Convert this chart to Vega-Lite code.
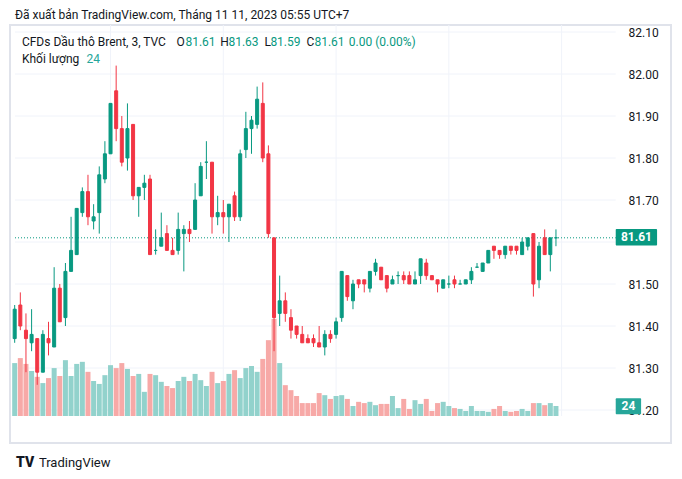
{
  "$schema": "https://vega.github.io/schema/vega-lite/v6.json",
  "width": 661,
  "height": 418,
  "autosize": {"type": "none"},
  "padding": {"left": 10, "top": 25, "right": 11, "bottom": 36},
  "background": "white",
  "config": {"view": {"stroke": "#e0e3eb", "strokeWidth": 2}, "font": "Roboto", "text": {"font": "Roboto"}},
  "datasets": {
    "bars": [
      {"t":9,"o":81.37,"h":81.45,"l":81.36,"c":81.44,"v":127},
      {"t":12,"o":81.45,"h":81.48,"l":81.39,"c":81.40,"v":139},
      {"t":15,"o":81.39,"h":81.43,"l":81.29,"c":81.37,"v":125},
      {"t":18,"o":81.36,"h":81.44,"l":81.34,"c":81.38,"v":108},
      {"t":21,"o":81.37,"h":81.37,"l":81.26,"c":81.29,"v":94},
      {"t":24,"o":81.29,"h":81.39,"l":81.29,"c":81.38,"v":79},
      {"t":27,"o":81.37,"h":81.41,"l":81.33,"c":81.36,"v":91},
      {"t":30,"o":81.35,"h":81.54,"l":81.35,"c":81.49,"v":115},
      {"t":33,"o":81.49,"h":81.50,"l":81.41,"c":81.41,"v":96},
      {"t":36,"o":81.42,"h":81.55,"l":81.40,"c":81.53,"v":134},
      {"t":39,"o":81.53,"h":81.66,"l":81.53,"c":81.58,"v":96},
      {"t":42,"o":81.57,"h":81.68,"l":81.57,"c":81.68,"v":125},
      {"t":45,"o":81.67,"h":81.73,"l":81.66,"c":81.72,"v":130},
      {"t":48,"o":81.72,"h":81.76,"l":81.64,"c":81.66,"v":106},
      {"t":51,"o":81.65,"h":81.69,"l":81.63,"c":81.66,"v":84},
      {"t":54,"o":81.67,"h":81.78,"l":81.62,"c":81.76,"v":77},
      {"t":57,"o":81.75,"h":81.84,"l":81.74,"c":81.81,"v":98},
      {"t":60,"o":81.81,"h":81.93,"l":81.81,"c":81.93,"v":122},
      {"t":63,"o":81.96,"h":82.02,"l":81.84,"c":81.87,"v":115},
      {"t":66,"o":81.87,"h":81.90,"l":81.78,"c":81.79,"v":127},
      {"t":69,"o":81.80,"h":81.93,"l":81.77,"c":81.87,"v":113},
      {"t":72,"o":81.88,"h":81.88,"l":81.70,"c":81.71,"v":96},
      {"t":75,"o":81.71,"h":81.73,"l":81.66,"c":81.73,"v":101},
      {"t":78,"o":81.73,"h":81.76,"l":81.70,"c":81.74,"v":58},
      {"t":81,"o":81.75,"h":81.76,"l":81.57,"c":81.57,"v":101},
      {"t":84,"o":81.58,"h":81.63,"l":81.57,"c":81.58,"v":98},
      {"t":87,"o":81.59,"h":81.67,"l":81.59,"c":81.61,"v":82},
      {"t":90,"o":81.62,"h":81.64,"l":81.58,"c":81.58,"v":72},
      {"t":93,"o":81.58,"h":81.61,"l":81.57,"c":81.57,"v":67},
      {"t":96,"o":81.58,"h":81.67,"l":81.57,"c":81.63,"v":84},
      {"t":99,"o":81.62,"h":81.64,"l":81.53,"c":81.63,"v":94},
      {"t":102,"o":81.63,"h":81.65,"l":81.60,"c":81.62,"v":84},
      {"t":105,"o":81.63,"h":81.74,"l":81.63,"c":81.70,"v":101},
      {"t":108,"o":81.71,"h":81.79,"l":81.71,"c":81.78,"v":86},
      {"t":111,"o":81.79,"h":81.84,"l":81.75,"c":81.79,"v":72},
      {"t":114,"o":81.79,"h":81.79,"l":81.62,"c":81.66,"v":106},
      {"t":117,"o":81.66,"h":81.71,"l":81.64,"c":81.67,"v":79},
      {"t":120,"o":81.67,"h":81.70,"l":81.62,"c":81.66,"v":84},
      {"t":123,"o":81.66,"h":81.69,"l":81.60,"c":81.69,"v":101},
      {"t":126,"o":81.71,"h":81.72,"l":81.65,"c":81.66,"v":110},
      {"t":129,"o":81.66,"h":81.82,"l":81.65,"c":81.81,"v":91},
      {"t":132,"o":81.82,"h":81.91,"l":81.80,"c":81.87,"v":115},
      {"t":135,"o":81.87,"h":81.90,"l":81.81,"c":81.89,"v":120},
      {"t":138,"o":81.88,"h":81.97,"l":81.87,"c":81.94,"v":106},
      {"t":141,"o":81.93,"h":81.98,"l":81.79,"c":81.80,"v":137},
      {"t":144,"o":81.81,"h":81.83,"l":81.61,"c":81.62,"v":182},
      {"t":147,"o":81.61,"h":81.61,"l":81.34,"c":81.42,"v":233},
      {"t":150,"o":81.43,"h":81.52,"l":81.40,"c":81.46,"v":127},
      {"t":153,"o":81.46,"h":81.48,"l":81.41,"c":81.43,"v":74},
      {"t":156,"o":81.42,"h":81.44,"l":81.37,"c":81.39,"v":62},
      {"t":159,"o":81.40,"h":81.40,"l":81.37,"c":81.38,"v":48},
      {"t":162,"o":81.38,"h":81.40,"l":81.36,"c":81.36,"v":31},
      {"t":165,"o":81.37,"h":81.38,"l":81.36,"c":81.36,"v":31},
      {"t":168,"o":81.37,"h":81.38,"l":81.35,"c":81.36,"v":31},
      {"t":171,"o":81.36,"h":81.40,"l":81.35,"c":81.35,"v":55},
      {"t":174,"o":81.35,"h":81.39,"l":81.33,"c":81.38,"v":50},
      {"t":177,"o":81.38,"h":81.39,"l":81.36,"c":81.37,"v":41},
      {"t":180,"o":81.38,"h":81.42,"l":81.37,"c":81.41,"v":48},
      {"t":183,"o":81.42,"h":81.53,"l":81.41,"c":81.53,"v":50},
      {"t":186,"o":81.52,"h":81.52,"l":81.46,"c":81.47,"v":41},
      {"t":189,"o":81.46,"h":81.51,"l":81.44,"c":81.50,"v":24},
      {"t":192,"o":81.51,"h":81.51,"l":81.49,"c":81.50,"v":34},
      {"t":195,"o":81.51,"h":81.51,"l":81.48,"c":81.50,"v":31},
      {"t":198,"o":81.49,"h":81.53,"l":81.48,"c":81.53,"v":34},
      {"t":201,"o":81.53,"h":81.56,"l":81.52,"c":81.55,"v":26},
      {"t":204,"o":81.54,"h":81.54,"l":81.51,"c":81.51,"v":29},
      {"t":207,"o":81.52,"h":81.52,"l":81.48,"c":81.49,"v":29},
      {"t":210,"o":81.50,"h":81.52,"l":81.50,"c":81.51,"v":48},
      {"t":213,"o":81.52,"h":81.53,"l":81.50,"c":81.52,"v":19},
      {"t":216,"o":81.52,"h":81.53,"l":81.50,"c":81.51,"v":41},
      {"t":219,"o":81.52,"h":81.53,"l":81.50,"c":81.50,"v":17},
      {"t":222,"o":81.50,"h":81.53,"l":81.50,"c":81.51,"v":38},
      {"t":225,"o":81.52,"h":81.56,"l":81.50,"c":81.56,"v":29},
      {"t":228,"o":81.55,"h":81.56,"l":81.51,"c":81.52,"v":41},
      {"t":231,"o":81.52,"h":81.52,"l":81.51,"c":81.51,"v":12},
      {"t":234,"o":81.51,"h":81.51,"l":81.48,"c":81.50,"v":31},
      {"t":237,"o":81.49,"h":81.51,"l":81.49,"c":81.51,"v":34},
      {"t":240,"o":81.50,"h":81.52,"l":81.49,"c":81.50,"v":24},
      {"t":243,"o":81.51,"h":81.52,"l":81.49,"c":81.50,"v":19},
      {"t":246,"o":81.50,"h":81.51,"l":81.50,"c":81.50,"v":17},
      {"t":249,"o":81.50,"h":81.51,"l":81.50,"c":81.51,"v":12},
      {"t":252,"o":81.51,"h":81.54,"l":81.50,"c":81.53,"v":24},
      {"t":255,"o":81.54,"h":81.55,"l":81.54,"c":81.54,"v":12},
      {"t":258,"o":81.53,"h":81.55,"l":81.53,"c":81.55,"v":12},
      {"t":261,"o":81.55,"h":81.58,"l":81.55,"c":81.58,"v":10},
      {"t":264,"o":81.59,"h":81.59,"l":81.56,"c":81.58,"v":17},
      {"t":267,"o":81.58,"h":81.58,"l":81.56,"c":81.57,"v":24},
      {"t":270,"o":81.57,"h":81.59,"l":81.56,"c":81.59,"v":12},
      {"t":273,"o":81.59,"h":81.59,"l":81.57,"c":81.58,"v":10},
      {"t":276,"o":81.59,"h":81.59,"l":81.57,"c":81.58,"v":12},
      {"t":279,"o":81.57,"h":81.61,"l":81.57,"c":81.60,"v":17},
      {"t":282,"o":81.59,"h":81.61,"l":81.58,"c":81.61,"v":12},
      {"t":285,"o":81.62,"h":81.62,"l":81.47,"c":81.50,"v":31},
      {"t":288,"o":81.51,"h":81.60,"l":81.49,"c":81.59,"v":31},
      {"t":291,"o":81.61,"h":81.63,"l":81.57,"c":81.57,"v":26},
      {"t":294,"o":81.57,"h":81.61,"l":81.53,"c":81.61,"v":31},
      {"t":297,"o":81.61,"h":81.63,"l":81.59,"c":81.61,"v":24}
    ],
    "hgrid": [{"p":81.2},{"p":81.3},{"p":81.4},{"p":81.5},{"p":81.6},{"p":81.7},{"p":81.8},{"p":81.9},{"p":82.0},{"p":82.1}],
    "vgrid": [{"t":60},{"t":120},{"t":180},{"t":240},{"t":300}],
    "one": [{}]
  },
  "resolve": {"scale": {"y": "independent"}, "axis": {"y": "independent"}},
  "layer": [
    {
      "layer": [
        {
          "data": {"name": "hgrid"},
          "mark": {"type": "rule", "color": "#f0f3fa", "strokeWidth": 1},
          "encoding": {
            "y": {"field": "p", "type": "quantitative", "scale": {"domain": [81.12143, 82.11667], "nice": false, "zero": false}, "axis": null},
            "x": {"datum": 9.17, "type": "quantitative", "scale": {"domain": [9.17, 355.55], "nice": false, "zero": false}, "axis": null},
            "x2": {"datum": 328.8}
          }
        },
        {
          "data": {"name": "vgrid"},
          "mark": {"type": "rule", "color": "#f0f3fa", "strokeWidth": 1},
          "encoding": {
            "x": {"field": "t", "type": "quantitative", "scale": {"domain": [9.17, 355.55], "nice": false, "zero": false},
                  "axis": {"title": null, "values": [60, 120, 180, 240, 300], "labelExpr": "datum.value == 300 ? '13' : '0' + (datum.value / 60) + ':00'", "grid": false, "ticks": false, "tickSize": 0, "domain": false, "labelPadding": -13, "labelBaseline": "middle", "labelFontSize": 12, "labelColor": "#131722", "labelFont": "Roboto", "labelFlush": false, "labelOverlap": false}},
            "y": {"datum": 82.11667, "type": "quantitative", "scale": {"domain": [81.12143, 82.11667], "nice": false, "zero": false}, "axis": null},
            "y2": {"datum": 81.1857}
          }
        }
      ]
    },
    {
      "layer": [
        {
          "data": {"name": "bars"},
          "mark": {"type": "bar", "size": 5, "clip": true},
          "encoding": {
            "x": {"field": "t", "type": "quantitative", "scale": {"domain": [9.17, 355.55], "nice": false, "zero": false}, "axis": null},
            "y": {"field": "v", "type": "quantitative", "scale": {"domain": [-64.8, 938.4], "nice": false, "zero": false}, "axis": null},
            "y2": {"datum": 0},
            "color": {"condition": {"test": "datum.c >= datum.o", "value": "#92d2cc"}, "value": "#f7a9a7"}
          }
        },
        {
          "data": {"name": "one"},
          "mark": {"type": "rect", "color": "#26a69a", "cornerRadius": 1},
          "encoding": {
            "x": {"datum": 328.8, "type": "quantitative", "scale": {"domain": [9.17, 355.55], "nice": false, "zero": false}, "axis": null},
            "x2": {"datum": 342.3},
            "y": {"datum": 42.5, "type": "quantitative", "scale": {"domain": [-64.8, 938.4], "nice": false, "zero": false}, "axis": null},
            "y2": {"datum": 4.1}
          }
        },
        {
          "data": {"name": "one"},
          "mark": {"type": "text", "color": "white", "fontWeight": "bold", "fontSize": 12, "align": "center", "baseline": "middle"},
          "encoding": {
            "x": {"datum": 335.6, "type": "quantitative", "scale": {"domain": [9.17, 355.55], "nice": false, "zero": false}, "axis": null},
            "y": {"datum": 23.3, "type": "quantitative", "scale": {"domain": [-64.8, 938.4], "nice": false, "zero": false}, "axis": null},
            "text": {"value": "24"}
          }
        }
      ]
    },
    {
      "layer": [
        {
          "data": {"name": "one"},
          "mark": {"type": "rule", "color": "#089981", "strokeWidth": 1, "strokeDash": [1, 2]},
          "encoding": {
            "x": {"datum": 9.17, "type": "quantitative", "scale": {"domain": [9.17, 355.55], "nice": false, "zero": false}, "axis": null},
            "x2": {"datum": 328.8},
            "y": {"datum": 81.61, "type": "quantitative", "scale": {"domain": [81.12143, 82.11667], "nice": false, "zero": false},
                  "axis": {"orient": "right", "title": null, "values": [81.2, 81.3, 81.4, 81.5, 81.7, 81.8, 81.9, 82.0, 82.1], "format": ".2f", "grid": false, "ticks": false, "tickSize": 0, "domain": false, "labelPadding": -43, "labelAlign": "left", "labelBaseline": "middle", "labelFontSize": 12, "labelColor": "#131722", "labelFont": "Roboto", "labelOverlap": false, "labelFlush": false}}
          }
        },
        {
          "data": {"name": "bars"},
          "mark": {"type": "rule", "strokeWidth": 1, "clip": true},
          "encoding": {
            "x": {"field": "t", "type": "quantitative", "scale": {"domain": [9.17, 355.55], "nice": false, "zero": false}, "axis": null},
            "y": {"field": "l", "type": "quantitative", "scale": {"domain": [81.12143, 82.11667], "nice": false, "zero": false}},
            "y2": {"field": "h"},
            "color": {"condition": {"test": "datum.c >= datum.o", "value": "#089981"}, "value": "#f23645"}
          }
        },
        {
          "data": {"name": "bars"},
          "mark": {"type": "bar", "size": 3, "strokeWidth": 1, "clip": true},
          "encoding": {
            "x": {"field": "t", "type": "quantitative", "scale": {"domain": [9.17, 355.55], "nice": false, "zero": false}, "axis": null},
            "y": {"field": "o", "type": "quantitative", "scale": {"domain": [81.12143, 82.11667], "nice": false, "zero": false}},
            "y2": {"field": "c"},
            "color": {"condition": {"test": "datum.c >= datum.o", "value": "#089981"}, "value": "#f23645"},
            "stroke": {"condition": {"test": "datum.c >= datum.o", "value": "#089981"}, "value": "#f23645"}
          }
        },
        {
          "data": {"name": "one"},
          "mark": {"type": "rect", "color": "#089981", "cornerRadius": 1},
          "encoding": {
            "x": {"datum": 328.8, "type": "quantitative", "scale": {"domain": [9.17, 355.55], "nice": false, "zero": false}, "axis": null},
            "x2": {"datum": 350.8},
            "y": {"datum": 81.631, "type": "quantitative", "scale": {"domain": [81.12143, 82.11667], "nice": false, "zero": false}},
            "y2": {"datum": 81.5917}
          }
        },
        {
          "data": {"name": "one"},
          "mark": {"type": "text", "color": "white", "fontWeight": "bold", "fontSize": 12, "align": "center", "baseline": "middle"},
          "encoding": {
            "x": {"datum": 339.8, "type": "quantitative", "scale": {"domain": [9.17, 355.55], "nice": false, "zero": false}, "axis": null},
            "y": {"datum": 81.611, "type": "quantitative", "scale": {"domain": [81.12143, 82.11667], "nice": false, "zero": false}},
            "text": {"value": "81.61"}
          }
        },
        {
          "data": {"name": "one"},
          "mark": {"type": "text", "color": "#131722", "fontSize": 12, "align": "left", "baseline": "middle"},
          "encoding": {
            "x": {"datum": 9.17, "type": "quantitative", "scale": {"domain": [9.17, 355.55], "nice": false, "zero": false}, "axis": null},
            "y": {"datum": 82.1405, "type": "quantitative", "scale": {"domain": [81.12143, 82.11667], "nice": false, "zero": false}},
            "text": {"value": "Đã xuất bản TradingView.com, Tháng 11 11, 2023 05:55 UTC+7"}
          }
        },
        {
          "data": {"name": "one"},
          "mark": {"type": "text", "color": "#131722", "fontSize": 12, "align": "left", "baseline": "middle"},
          "encoding": {
            "x": {"datum": 12.84, "type": "quantitative", "scale": {"domain": [9.17, 355.55], "nice": false, "zero": false}, "axis": null},
            "y": {"datum": 82.0755, "type": "quantitative", "scale": {"domain": [81.12143, 82.11667], "nice": false, "zero": false}},
            "text": {"value": "CFDs Dầu thô Brent, 3, TVC"}
          }
        },
        {
          "data": {"name": "one"},
          "mark": {"type": "text", "color": "#131722", "fontSize": 12, "align": "left", "baseline": "middle"},
          "encoding": {
            "x": {"datum": 95.11, "type": "quantitative", "scale": {"domain": [9.17, 355.55], "nice": false, "zero": false}, "axis": null},
            "y": {"datum": 82.0755, "type": "quantitative", "scale": {"domain": [81.12143, 82.11667], "nice": false, "zero": false}},
            "text": {"value": "O"}
          }
        },
        {
          "data": {"name": "one"},
          "mark": {"type": "text", "color": "#089981", "fontSize": 12, "align": "left", "baseline": "middle"},
          "encoding": {
            "x": {"datum": 99.83, "type": "quantitative", "scale": {"domain": [9.17, 355.55], "nice": false, "zero": false}, "axis": null},
            "y": {"datum": 82.0755, "type": "quantitative", "scale": {"domain": [81.12143, 82.11667], "nice": false, "zero": false}},
            "text": {"value": "81.61"}
          }
        },
        {
          "data": {"name": "one"},
          "mark": {"type": "text", "color": "#131722", "fontSize": 12, "align": "left", "baseline": "middle"},
          "encoding": {
            "x": {"datum": 118.32, "type": "quantitative", "scale": {"domain": [9.17, 355.55], "nice": false, "zero": false}, "axis": null},
            "y": {"datum": 82.0755, "type": "quantitative", "scale": {"domain": [81.12143, 82.11667], "nice": false, "zero": false}},
            "text": {"value": "H"}
          }
        },
        {
          "data": {"name": "one"},
          "mark": {"type": "text", "color": "#089981", "fontSize": 12, "align": "left", "baseline": "middle"},
          "encoding": {
            "x": {"datum": 122.72, "type": "quantitative", "scale": {"domain": [9.17, 355.55], "nice": false, "zero": false}, "axis": null},
            "y": {"datum": 82.0755, "type": "quantitative", "scale": {"domain": [81.12143, 82.11667], "nice": false, "zero": false}},
            "text": {"value": "81.63"}
          }
        },
        {
          "data": {"name": "one"},
          "mark": {"type": "text", "color": "#131722", "fontSize": 12, "align": "left", "baseline": "middle"},
          "encoding": {
            "x": {"datum": 141.9, "type": "quantitative", "scale": {"domain": [9.17, 355.55], "nice": false, "zero": false}, "axis": null},
            "y": {"datum": 82.0755, "type": "quantitative", "scale": {"domain": [81.12143, 82.11667], "nice": false, "zero": false}},
            "text": {"value": "L"}
          }
        },
        {
          "data": {"name": "one"},
          "mark": {"type": "text", "color": "#089981", "fontSize": 12, "align": "left", "baseline": "middle"},
          "encoding": {
            "x": {"datum": 145.05, "type": "quantitative", "scale": {"domain": [9.17, 355.55], "nice": false, "zero": false}, "axis": null},
            "y": {"datum": 82.0755, "type": "quantitative", "scale": {"domain": [81.12143, 82.11667], "nice": false, "zero": false}},
            "text": {"value": "81.59"}
          }
        },
        {
          "data": {"name": "one"},
          "mark": {"type": "text", "color": "#131722", "fontSize": 12, "align": "left", "baseline": "middle"},
          "encoding": {
            "x": {"datum": 164.28, "type": "quantitative", "scale": {"domain": [9.17, 355.55], "nice": false, "zero": false}, "axis": null},
            "y": {"datum": 82.0755, "type": "quantitative", "scale": {"domain": [81.12143, 82.11667], "nice": false, "zero": false}},
            "text": {"value": "C"}
          }
        },
        {
          "data": {"name": "one"},
          "mark": {"type": "text", "color": "#089981", "fontSize": 12, "align": "left", "baseline": "middle"},
          "encoding": {
            "x": {"datum": 168.47, "type": "quantitative", "scale": {"domain": [9.17, 355.55], "nice": false, "zero": false}, "axis": null},
            "y": {"datum": 82.0755, "type": "quantitative", "scale": {"domain": [81.12143, 82.11667], "nice": false, "zero": false}},
            "text": {"value": "81.61"}
          }
        },
        {
          "data": {"name": "one"},
          "mark": {"type": "text", "color": "#089981", "fontSize": 12, "align": "left", "baseline": "middle"},
          "encoding": {
            "x": {"datum": 186.8, "type": "quantitative", "scale": {"domain": [9.17, 355.55], "nice": false, "zero": false}, "axis": null},
            "y": {"datum": 82.0755, "type": "quantitative", "scale": {"domain": [81.12143, 82.11667], "nice": false, "zero": false}},
            "text": {"value": "0.00 (0.00%)"}
          }
        },
        {
          "data": {"name": "one"},
          "mark": {"type": "text", "color": "#131722", "fontSize": 12, "align": "left", "baseline": "middle"},
          "encoding": {
            "x": {"datum": 12.84, "type": "quantitative", "scale": {"domain": [9.17, 355.55], "nice": false, "zero": false}, "axis": null},
            "y": {"datum": 82.035, "type": "quantitative", "scale": {"domain": [81.12143, 82.11667], "nice": false, "zero": false}},
            "text": {"value": "Khối lượng"}
          }
        },
        {
          "data": {"name": "one"},
          "mark": {"type": "text", "color": "#26a69a", "fontSize": 12, "align": "left", "baseline": "middle"},
          "encoding": {
            "x": {"datum": 47.27, "type": "quantitative", "scale": {"domain": [9.17, 355.55], "nice": false, "zero": false}, "axis": null},
            "y": {"datum": 82.035, "type": "quantitative", "scale": {"domain": [81.12143, 82.11667], "nice": false, "zero": false}},
            "text": {"value": "24"}
          }
        },
        {
          "data": {"name": "one"},
          "mark": {"type": "text", "color": "#131722", "fontSize": 14, "fontWeight": 900, "align": "left", "baseline": "middle"},
          "encoding": {
            "x": {"datum": 9.7, "type": "quantitative", "scale": {"domain": [9.17, 355.55], "nice": false, "zero": false}, "axis": null},
            "y": {"datum": 81.0738, "type": "quantitative", "scale": {"domain": [81.12143, 82.11667], "nice": false, "zero": false}},
            "text": {"value": "TV"}
          }
        },
        {
          "data": {"name": "one"},
          "mark": {"type": "text", "color": "#131722", "fontSize": 13, "align": "left", "baseline": "middle"},
          "encoding": {
            "x": {"datum": 21.9, "type": "quantitative", "scale": {"domain": [9.17, 355.55], "nice": false, "zero": false}, "axis": null},
            "y": {"datum": 81.0738, "type": "quantitative", "scale": {"domain": [81.12143, 82.11667], "nice": false, "zero": false}},
            "text": {"value": "TradingView"}
          }
        }
      ]
    }
  ]
}
